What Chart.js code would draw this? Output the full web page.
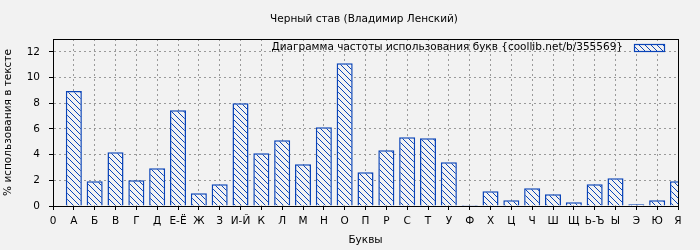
<!DOCTYPE html>
<html>
<head>
<meta charset="utf-8">
<script src="https://cdn.jsdelivr.net/npm/chart.js@4/dist/chart.umd.min.js"></script>
<style>
  html, body { margin: 0; padding: 0; background: #f2f2f2; }
  canvas { display: block; }
</style>
</head>
<body>
<canvas id="chart" width="700" height="250"></canvas>
<script>
// данные с картинки
const letters = ['0', 'А', 'Б', 'В', 'Г', 'Д', 'Е-Ё', 'Ж', 'З', 'И-Й', 'К', 'Л', 'М', 'Н', 'О', 'П',
    'Р', 'С', 'Т', 'У', 'Ф', 'Х', 'Ц', 'Ч', 'Ш', 'Щ', 'Ь-Ъ', 'Ы', 'Э', 'Ю', 'Я'];
const percents = [null, 8.95, 1.92, 4.18, 2.0, 2.94, 7.46, 0.99, 1.69, 8.0, 4.1, 5.12, 3.25, 6.13, 11.12, 2.63,
    4.34, 5.35, 5.27, 3.4, 0.08, 1.15, 0.44, 1.38, 0.91, 0.29, 1.69, 2.16, 0.13, 0.44, 1.92];
const yTicks = [0, 2, 4, 6, 8, 10, 12];

const chartTitle = 'Черный став (Владимир Ленский)';
const legendText = 'Диаграмма частоты использования букв {coollib.net/b/355569}';
const FONT = '"DejaVu Sans", sans-serif';
const FS = 10.5;
const BLUE = '#0a44b8';

// штриховка для столбиков
const makeHatch = () => {
    const c = document.createElement('canvas');
    c.width = 6; c.height = 6;
    const g = c.getContext('2d');
    g.fillStyle = '#f2f2f2';
    g.fillRect(0, 0, 6, 6);
    g.strokeStyle = BLUE;
    g.lineWidth = 1;
    g.beginPath();
    g.moveTo(-1, -1); g.lineTo(7, 7);
    g.moveTo(-1, 5); g.lineTo(1, 7);
    g.moveTo(5, -1); g.lineTo(7, 1);
    g.stroke();
    return g.createPattern(c, 'repeat');
};
const hatch = makeHatch();

const decor = {
    id: 'decor',
    beforeDraw(chart) {
        const ctx = chart.ctx;
        ctx.save();
        ctx.fillStyle = '#f2f2f2';
        ctx.fillRect(0, 0, chart.width, chart.height);
        ctx.restore();
    },
    afterDraw(chart) {
        const ctx = chart.ctx;
        const a = chart.chartArea;
        ctx.save();
        ctx.strokeStyle = '#000';
        ctx.lineWidth = 1;
        ctx.strokeRect(Math.round(a.left) + 0.5, Math.round(a.top) + 0.5,
            Math.round(a.right - a.left), Math.round(a.bottom - a.top));

        ctx.fillStyle = '#000';
        ctx.font = FS + 'px ' + FONT;
        ctx.textBaseline = 'middle';
        ctx.textAlign = 'center';
        ctx.fillText(chartTitle, 364, 19);

        // легенда внутри поля графика
        ctx.textAlign = 'right';
        ctx.fillText(legendText, 623, 47);
        ctx.fillStyle = hatch;
        ctx.fillRect(634, 44, 30, 7);
        ctx.strokeStyle = BLUE;
        ctx.lineWidth = 1.2;
        ctx.strokeRect(634.5, 44.5, 30, 7);
        ctx.restore();
    }
};

new Chart(document.getElementById('chart'), {
    type: 'bar',
    data: {
        labels: letters,
        datasets: [{
            data: percents,
            backgroundColor: hatch,
            borderColor: BLUE,
            borderWidth: 1.5,
            barPercentage: 0.77,
            categoryPercentage: 1,
            clip: 0
        }]
    },
    options: {
        responsive: false,
        animation: false,
        layout: { padding: { left: 0, right: 22, top: 39, bottom: 0 } },
        plugins: { legend: { display: false }, title: { display: false }, tooltip: { enabled: false } },
        scales: {
            x: {
                offset: false,
                grid: {
                    offset: false, color: '#9a9a9a', tickColor: '#000', tickLength: 4,
                    tickBorderDash: []
                },
                border: { color: '#000', dash: [2, 3] },
                ticks: {
                    autoSkip: false, maxRotation: 0, padding: 5, color: '#000',
                    font: { family: FONT, size: FS }
                },
                title: {
                    display: true, text: 'Буквы', color: '#000',
                    font: { family: FONT, size: FS }, padding: { top: 0, bottom: 3 }
                },
                afterFit: (s) => { s.height = 44; }
            },
            y: {
                min: 0,
                max: 13,
                grid: { color: '#9a9a9a', tickColor: '#000', tickLength: 4, tickBorderDash: [] },
                border: { color: '#000', dash: [2, 3] },
                afterBuildTicks: (s) => { s.ticks = yTicks.map(v => ({ value: v })); },
                ticks: {
                    padding: 9, color: '#000',
                    font: { family: FONT, size: FS }
                },
                title: {
                    display: true, text: '% использования в тексте', color: '#000',
                    font: { family: FONT, size: FS }, padding: { top: 2, bottom: 0 }
                },
                afterFit: (s) => { s.width = 53; }
            }
        }
    },
    plugins: [decor]
});
</script>
</body>
</html>
